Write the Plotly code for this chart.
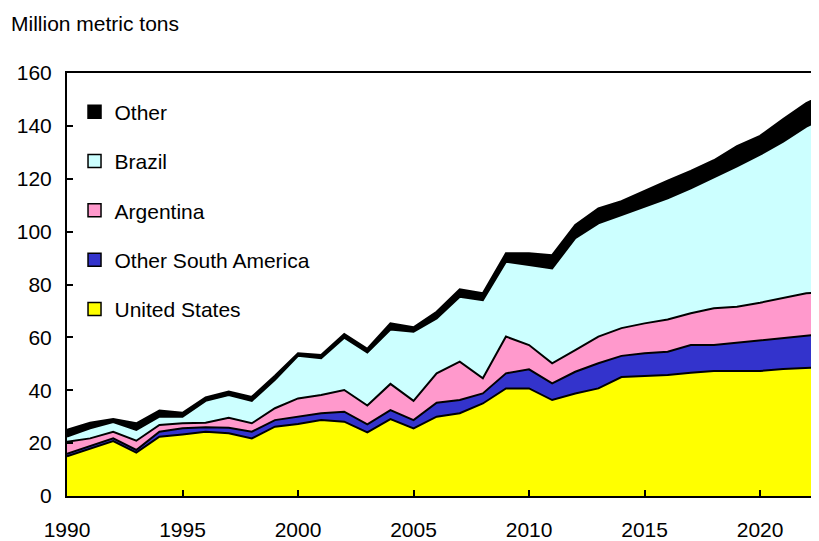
import plotly.graph_objects as go

years = list(range(1990, 2024))

# million metric tons, by origin (stacked bottom to top)
united_states = [15.0, 17.9, 20.8, 16.4, 22.4, 23.3, 24.3, 23.7, 21.8, 26.2,
                 27.2, 28.7, 28.1, 24.1, 29.1, 25.6, 30.0, 31.3, 35.0, 40.7,
                 40.7, 36.3, 38.8, 40.7, 45.0, 45.4, 45.8, 46.6, 47.3, 47.3,
                 47.3, 48.0, 48.3, 48.8]
other_south_america = [1.0, 1.0, 1.0, 1.0, 1.9, 2.3, 1.7, 2.1, 2.5, 2.5,
                       2.8, 2.6, 3.8, 3.0, 3.4, 3.1, 5.3, 5.0, 3.8, 5.7,
                       7.2, 6.3, 8.2, 9.5, 8.0, 8.6, 8.8, 10.5, 9.8, 10.7,
                       11.7, 11.9, 12.6, 12.7]
argentina = [4.5, 2.9, 2.5, 3.5, 2.6, 1.9, 1.7, 3.8, 3.2, 4.5,
             6.9, 6.9, 8.2, 7.1, 9.9, 7.3, 11.1, 14.5, 5.7, 13.9,
             9.2, 7.6, 8.2, 10.1, 10.5, 11.3, 12.2, 12.0, 13.9, 13.6,
             14.1, 14.9, 15.8, 15.8]
brazil = [2.0, 3.8, 3.7, 4.1, 3.1, 2.5, 8.3, 8.6, 8.5, 10.8,
          16.1, 13.9, 19.8, 20.1, 20.6, 26.1, 20.8, 24.6, 29.6, 28.3,
          30.3, 35.9, 42.3, 42.8, 42.8, 44.1, 45.8, 47.3, 49.5, 53.1,
          56.0, 59.2, 63.0, 66.7]
other = [2.5, 2.1, 1.1, 2.5, 2.3, 1.5, 1.3, 1.3, 1.5, 1.5,
         1.0, 1.2, 1.4, 1.4, 2.3, 1.7, 2.5, 2.8, 2.6, 3.2,
         4.4, 5.0, 5.0, 5.7, 5.2, 6.1, 6.7, 6.6, 6.5, 7.6,
         7.1, 8.6, 8.9, 9.0]

series = [
    ('United States', united_states, '#FFFF00'),
    ('Other South America', other_south_america, '#3333CC'),
    ('Argentina', argentina, '#FF99CC'),
    ('Brazil', brazil, '#CCFFFF'),
    ('Other', other, '#000000'),
]

font = 'Liberation Sans, Arial, sans-serif'

fig = go.Figure()

for name, vals, color in series:
    fig.add_trace(go.Scatter(
        x=years, y=vals, name=name, mode='lines',
        stackgroup='one', fillcolor=color,
        line=dict(color='black', width=2),
        showlegend=False, hoverinfo='skip'
    ))

# square legend keys, top layer listed first
for name, vals, color in series[::-1]:
    fig.add_trace(go.Scatter(
        x=[None], y=[None], mode='markers', name=name,
        legendgroup=name,
        marker=dict(symbol='square', size=13, color=color,
                    line=dict(color='black', width=1.5))
    ))

# page body has an 8px margin, so the figure is sized to fit inside the window
fig.update_layout(
    width=811, height=533,
    margin=dict(l=59, r=0, t=65, b=45),
    plot_bgcolor='white',
    paper_bgcolor='white',
    font=dict(family=font, size=21, color='black'),
    title=dict(text='Million metric tons', x=3 / 811, xanchor='left',
               y=1 - 16 / 533, yanchor='middle', xref='container',
               font=dict(family=font, size=21, color='black')),
    legend=dict(x=0.01, y=0.956, xanchor='left', yanchor='top',
                traceorder='grouped', tracegroupgap=19,
                bgcolor='rgba(0,0,0,0)', font=dict(size=21)),
    showlegend=True,
)

fig.update_xaxes(
    range=[1990, 2022.55], tickvals=list(range(1990, 2025, 5)),
    ticks='inside', ticklen=6, tickwidth=2, tickcolor='black',
    showline=True, linecolor='black', linewidth=2, mirror=True,
    showgrid=False, zeroline=False, ticklabelstandoff=14,
    tickfont=dict(size=21)
)
fig.update_yaxes(
    range=[0, 160], dtick=20,
    ticks='inside', ticklen=6, tickwidth=2, tickcolor='black',
    showline=True, linecolor='black', linewidth=2,
    showgrid=False, zeroline=False, ticklabelstandoff=9,
    tickfont=dict(size=21)
)

fig.write_html('out.html')
